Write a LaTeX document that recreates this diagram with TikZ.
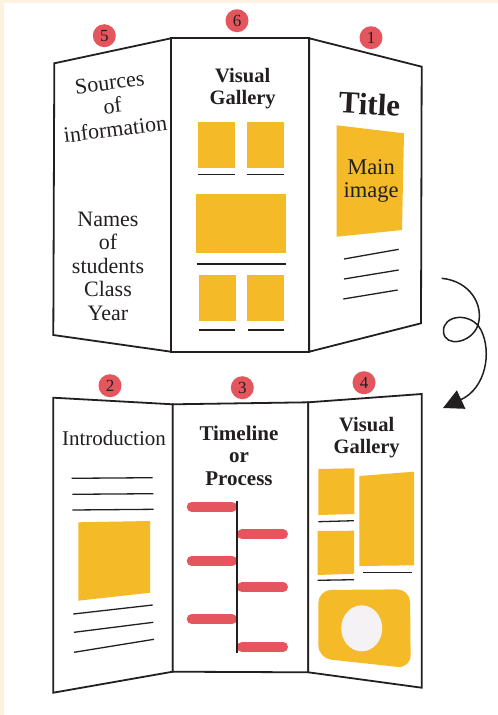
\documentclass[tikz,border=0pt]{standalone}
\usepackage{fontspec}
\setmainfont{Liberation Serif}
\usetikzlibrary{arrows.meta}

\definecolor{creme}{HTML}{FDF2E0}
\definecolor{amarelo}{HTML}{F5BA27}
\definecolor{vermelho}{HTML}{E4555D}
\definecolor{tinta}{HTML}{231F20}
\definecolor{cinza}{HTML}{F4F2F4}

\begin{document}
\begin{tikzpicture}[x=1pt,y=-1pt,
    painel/.style={draw=tinta,line width=1.8pt,fill=white},
    bloco/.style={fill=amarelo},
    linha/.style={draw=tinta,line width=1.3pt},
    marca/.style={circle,fill=vermelho,minimum size=23pt,inner sep=0pt,text=tinta,font=\fontsize{17}{17}\selectfont},
    rotulo/.style={text=tinta,align=center,inner sep=0pt,font=\fontsize{22}{23.5}\selectfont},
    negrito/.style={rotulo,font=\bfseries\fontsize{20.5}{22.2}\selectfont},
    etapa/.style={draw=vermelho,line width=10pt,line cap=round}]

        % Fundo
        \useasboundingbox (0,0) rectangle (498,715);
        \fill[creme] (0,0) rectangle (498,715);
        \fill[white] (4,3) rectangle (498,715);

        % Cartaz de cima
        \draw[painel] (54.3,63.3) -- (171,38.3) -- (171,351.7) -- (53.3,335) -- cycle;
        \draw[painel] (171,38.3) -- (309.3,38.3) -- (309.3,351.7) -- (171,351.7) -- cycle;
        \draw[painel] (309.3,38.3) -- (421.7,66.7) -- (421,323.3) -- (309.3,351.7) -- cycle;

        \node[marca] (n5) at (104.3,35.7) {5};
        \node[marca] (n6) at (237,20.7) {6};
        \node[marca] (n1) at (371,37.7) {1};

        % Painel 5
        \node[rotulo,rotate=7] (fontes) at (112.5,106) {Sources\\of\\information};
        \node[rotulo] (nomes) at (108,266) {Names\\of\\students\\Class\\Year};

        % Painel 6
        \node[negrito] (galeria1) at (242.7,88.3) {Visual\\Gallery};
        \fill[bloco] (198,122) rectangle (235,167.7);
        \fill[bloco] (247,122) rectangle (284,167.7);
        \fill[bloco] (196,194) rectangle (286,252.7);
        \fill[bloco] (199,275) rectangle (236,320.7);
        \fill[bloco] (247,275) rectangle (284,320.7);
        \draw[linha] (198,174.3) -- (235,174.3);
        \draw[linha] (247,174.3) -- (284,174.3);
        \draw[linha] (196.7,264) -- (286,264);
        \draw[linha] (199,330) -- (235,330);
        \draw[linha] (247.7,330) -- (284,330);

        % Painel 1
        \node[rotulo,font=\bfseries\fontsize{31}{31}\selectfont,rotate=-3] (titulo) at (369.5,104) {Title};
        \fill[bloco] (336.7,125.3) -- (404,133.3) -- (402,230) -- (336.7,236.7) -- cycle;
        \node[rotulo,font=\fontsize{22.5}{23}\selectfont] (imagem) at (371,180.5) {Main\\image};
        \draw[linha] (344,259) -- (398.7,249.3);
        \draw[linha] (344,279) -- (398.7,270);
        \draw[linha] (343.3,299) -- (397.7,290);

        % Seta em espiral
        \coordinate (inicio) at (441.7,278.3);
        \coordinate (ponta) at (443,408);
        \draw[tinta,line width=1.5pt,-{Triangle[length=20pt,width=20pt]}] (inicio)
            .. controls (470,281) and (484,305) .. (478,325)
            .. controls (472,343) and (445,348) .. (443.5,332)
            .. controls (442,315) and (471,311) .. (481,330)
            .. controls (492,352) and (486,388) .. (ponta);

        % Cartaz de baixo
        \draw[painel] (53.3,397.7) -- (172.7,404.3) -- (172.7,671.7) -- (53.3,692.7) -- cycle;
        \draw[painel] (172.7,404.3) -- (308.3,402.3) -- (308.3,672.3) -- (172.7,671.7) -- cycle;
        \draw[painel] (308.3,402.3) -- (421.7,394) -- (421.7,687.7) -- (308.3,672.3) -- cycle;

        \node[marca] (n2) at (110,385.7) {2};
        \node[marca] (n3) at (242.3,387.7) {3};
        \node[marca] (n4) at (364,382.7) {4};

        % Painel 2
        \node[rotulo,font=\fontsize{21}{23}\selectfont] (intro) at (114,438) {Introduction};
        \draw[linha] (71.7,478.3) -- (152.7,477.7);
        \draw[linha] (72.3,494.3) -- (153.3,493.7);
        \draw[linha] (72.3,510) -- (153.7,509.3);
        \fill[bloco] (78.3,522.3) -- (150,521) -- (150,592.7) -- (78.3,600.7) -- cycle;
        \draw[linha] (73.3,614) -- (152.7,605);
        \draw[linha] (74,632.3) -- (153.3,622.3);
        \draw[linha] (74,652.3) -- (154,639.3);

        % Painel 3
        \node[negrito,font=\bfseries\fontsize{21}{22.2}\selectfont] (linhatempo) at (239,455.8) {Timeline\\or\\Process};
        \foreach \y in {506.7,561,619.3} \draw[etapa] (191.7,\y) -- (232,\y);
        \foreach \y in {534.3,587.3,647} \draw[etapa] (242,\y) -- (283,\y);
        \draw[linha] (237,501) -- (237,652.7);

        % Painel 4
        \node[negrito] (galeria2) at (366.7,437.8) {Visual\\Gallery};
        \fill[bloco] (318.3,469) -- (354.3,468.3) -- (354.3,514) -- (318.3,515) -- cycle;
        \fill[bloco] (317.7,531) -- (354,530.7) -- (354,573.7) -- (317.7,575) -- cycle;
        \fill[bloco] (359.3,476) -- (414,471.7) -- (414,565.3) -- (359.3,566) -- cycle;
        \draw[linha] (318.3,521.7) -- (354,520.7);
        \draw[linha] (317.7,580.3) -- (354,579.7);
        \draw[linha] (363.3,572.7) -- (411.7,572.7);
        \fill[bloco,rounded corners=13pt] (318.3,590) -- (410,589.3) -- (410.7,668.3) -- (318.3,658.3) -- cycle;
        \fill[cinza] (361.7,628.3) ellipse [x radius=20.5, y radius=23];

    \end{tikzpicture}
\end{document}
